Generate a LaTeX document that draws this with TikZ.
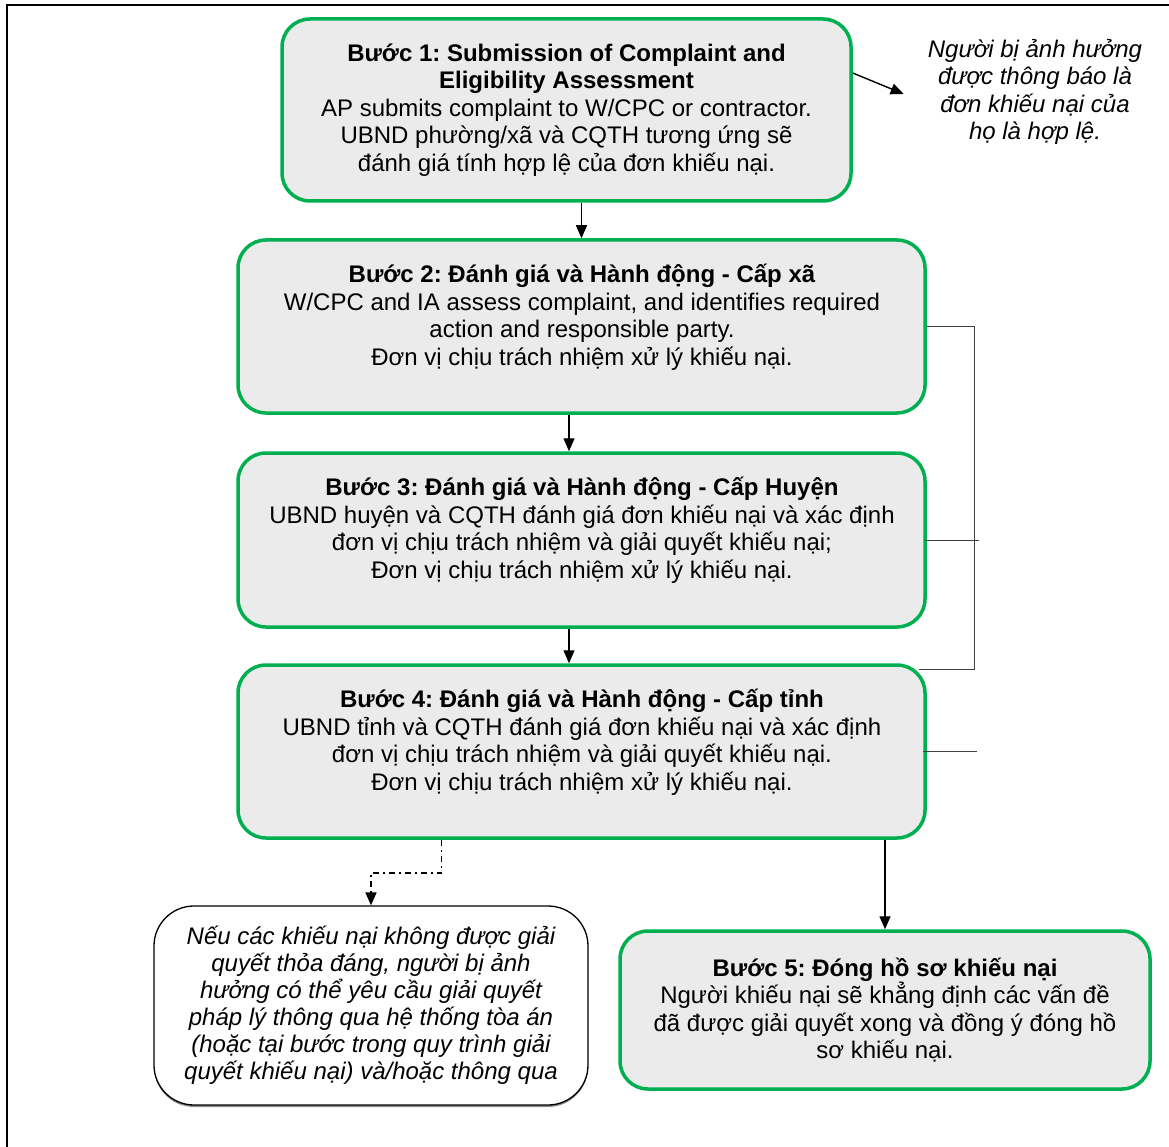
\documentclass[tikz,border=0pt]{standalone}
\usepackage{fontspec}
\setmainfont{Liberation Sans}
\usepackage{tikz}
\usetikzlibrary{arrows.meta,shadows}
\definecolor{stepgreen}{HTML}{00B050}
\colorlet{stepfill}{black!8}
\frenchspacing

\begin{document}
\begin{tikzpicture}[
  x=1pt, y=-1pt,
  every node/.style={font=\fontsize{24}{27.5}\selectfont, align=center, inner sep=0pt},
  stepbox/.style={draw=stepgreen, line width=3.5pt, fill=stepfill, rounded corners=28pt},
  legalbox/.style={draw, line width=1.3pt, fill=white, rounded corners=40pt,
    font=\fontsize{24}{27}\selectfont\itshape,
    drop shadow={shadow xshift=0pt, shadow yshift=-2pt, fill=black!45, opacity=1}},
  notetext/.style={font=\fontsize{24}{27.2}\selectfont\itshape},
  link/.style={-{Triangle[width=11pt,length=13pt]}, line width=1.4pt},
  rail/.style={draw=black!75, line width=1pt},
  dashdot/.style={-{Triangle[width=11pt,length=13pt]}, line width=1.7pt,
    dash pattern=on 6pt off 4pt on 2pt off 4pt}
]
\useasboundingbox (0,0) rectangle (1169,1147);
\draw[line width=1.5pt] (7,1147) -- (7,5) -- (1169,5);

% steps
\node[stepbox, minimum width=569pt, minimum height=182pt] (s1) at (566.5,110)
  {\textbf{Bước 1: Submission of Complaint and}\\
   \textbf{Eligibility Assessment}\\
   AP submits complaint to W/CPC or contractor.\\
   UBND phường/xã và CQTH tương ứng sẽ\\
   đánh giá tính hợp lệ của đơn khiếu nại.};
\node[stepbox, minimum width=687pt, minimum height=173pt] (s2) at (581.5,326.5) {};
\node[stepbox, minimum width=687pt, minimum height=174pt] (s3) at (581.5,540) {};
\node[stepbox, minimum width=687pt, minimum height=173pt] (s4) at (581.5,751.5) {};
\node[stepbox, minimum width=530pt, minimum height=158pt] (s5) at (885,1010)
  {\textbf{Bước 5: Đóng hồ sơ khiếu nại}\\
   Người khiếu nại sẽ khẳng định các vấn đề\\
   đã được giải quyết xong và đồng ý đóng hồ\\
   sơ khiếu nại.};

\node (t2) at (582,317.5)
  {\textbf{Bước 2: Đánh giá và Hành động - Cấp xã}\\
   W/CPC and IA assess complaint, and identifies required\\
   action and responsible party.\\
   Đơn vị chịu trách nhiệm xử lý khiếu nại.};
\node (t3) at (582,530.5)
  {\textbf{Bước 3: Đánh giá và Hành động - Cấp Huyện}\\
   UBND huyện và CQTH đánh giá đơn khiếu nại và xác định\\
   đơn vị chịu trách nhiệm và giải quyết khiếu nại;\\
   Đơn vị chịu trách nhiệm xử lý khiếu nại.};
\node (t4) at (582,742.5)
  {\textbf{Bước 4: Đánh giá và Hành động - Cấp tỉnh}\\
   UBND tỉnh và CQTH đánh giá đơn khiếu nại và xác định\\
   đơn vị chịu trách nhiệm và giải quyết khiếu nại.\\
   Đơn vị chịu trách nhiệm xử lý khiếu nại.};

\node[legalbox, minimum width=434pt, minimum height=199pt] (legal) at (371,1005.5)
  {Nếu các khiếu nại không được giải\\
   quyết thỏa đáng, người bị ảnh\\
   hưởng có thể yêu cầu giải quyết\\
   pháp lý thông qua hệ thống tòa án\\
   (hoặc tại bước trong quy trình giải\\
   quyết khiếu nại) và/hoặc thông qua};

\node[notetext] (note) at (1035,92)
  {Người bị ảnh hưởng\\
   được thông báo là\\
   đơn khiếu nại của\\
   họ là hợp lệ.};

% connectors
\draw[link] (s1.south -| s2.north) -- (s2.north);
\draw[link] ([xshift=-12.5pt]s2.south) -- ([xshift=-12.5pt]s3.north);
\draw[link] ([xshift=-12.5pt]s3.south) -- ([xshift=-12.5pt]s4.north);
\draw[link] (s4.south -| s5.north) -- (s5.north);
\draw[link] ([yshift=37pt]s1.east) -- ([xshift=-24pt,yshift=-2pt]note.west);

\coordinate (r2) at ([xshift=48pt]s2.east);
\coordinate (r4) at (r2 |- s4.north);
\draw[rail] (s2.east) -- (r2) -- ([yshift=-6pt]r4) -- ([xshift=-8pt,yshift=-6pt]r4 -| s4.east);
\draw[rail] ([xshift=-2pt]s3.east) -- ++(54,0);
\draw[rail] ([xshift=-4pt]s4.east) -- ++(54,0);

\coordinate (d1) at ([xshift=-140pt]s4.south);
\draw[dashdot] (d1) -- ++(0,33) -| (legal.north);
\end{tikzpicture}
\end{document}
